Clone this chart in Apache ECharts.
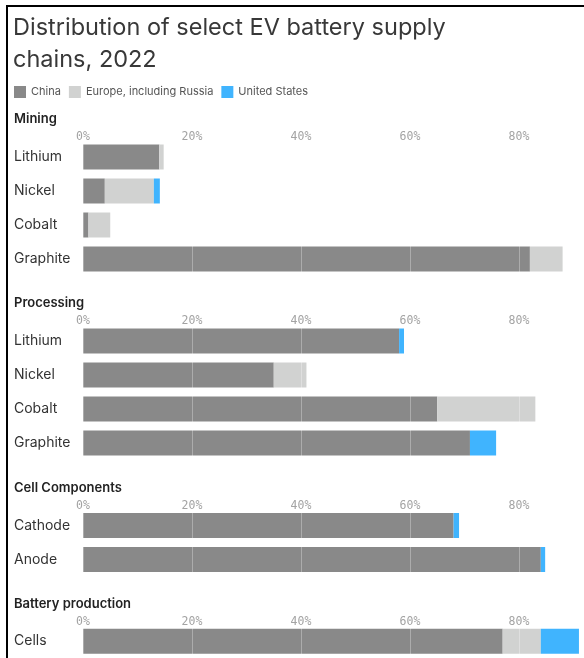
<!DOCTYPE html>
<html lang="en">
<head>
  <meta charset="UTF-8">
  <title>EV battery supply chains</title>
  <style>
    * { padding: 0; margin: 0; }
    html, body { width: 100%; height: 100%; background: #fff; }
    #chart { width: 584px; height: 658px; }
  </style>
  <script src="https://cdn.jsdelivr.net/npm/echarts@6/dist/echarts.min.js"></script>
</head>
<body>
  <div id="chart"></div>
  <script>
    // data (share of global capacity, %)
    var seriesNames = ['China', 'Europe, including Russia', 'United States'];
    var tickLabels = ['0%', '20%', '40%', '60%', '80%'];

    var miningCats = ['Lithium', 'Nickel', 'Cobalt', 'Graphite'];
    var miningChina = [14, 4, 1, 82];
    var miningEurope = [0.8, 9, 4, 6];
    var miningUS = [0, 1.1, 0, 0];

    var processingCats = ['Lithium', 'Nickel', 'Cobalt', 'Graphite'];
    var processingChina = [58, 35, 65, 71];
    var processingEurope = [0, 6, 18, 0];
    var processingUS = [0.9, 0, 0, 4.8];

    var cellCats = ['Cathode', 'Anode'];
    var cellChina = [68, 84];
    var cellEurope = [0, 0];
    var cellUS = [1, 0.8];

    var batteryCats = ['Cells'];
    var batteryChina = [77];
    var batteryEurope = [7];
    var batteryUS = [7];

    var colors = ['#898989', '#d1d2d1', '#40b4fe'];

    var sections = [
      { name: 'Mining', top: 140, cats: miningCats, values: [miningChina, miningEurope, miningUS] },
      { name: 'Processing', top: 324, cats: processingCats, values: [processingChina, processingEurope, processingUS] },
      { name: 'Cell Components', top: 508.5, cats: cellCats, values: [cellChina, cellEurope, cellUS] },
      { name: 'Battery production', top: 624.5, cats: batteryCats, values: [batteryChina, batteryEurope, batteryUS] }
    ];

    var rowHeight = 34;
    var axisMax = 91;
    var chart = echarts.init(document.getElementById('chart'));

    var titles = [{
      text: 'Distribution of select EV battery supply\nchains, 2022',
      left: 13,
      top: 12,
      padding: 0,
      textStyle: { fontFamily: 'Inter', fontSize: 23.5, fontWeight: 400, color: '#383838', lineHeight: 32 }
    }];
    var grids = [], xAxes = [], yAxes = [], series = [];

    sections.forEach(function(sec, i) {
      titles.push({
        text: sec.name,
        left: 14,
        top: sec.top - 27,
        padding: 0,
        textStyle: { fontFamily: 'Inter', fontSize: 13, fontWeight: 600, color: '#222' }
      });
      grids.push({ left: 83, top: sec.top, width: axisMax * 5.45, height: rowHeight * sec.cats.length });
      xAxes.push({
        gridIndex: i,
        type: 'value',
        position: 'top',
        min: 0,
        max: axisMax,
        interval: 20,
        z: 10,
        axisLine: { show: false },
        axisTick: { show: false },
        axisLabel: {
          margin: -3.5,
          fontFamily: 'DejaVu Sans Mono',
          fontSize: 11.5,
          color: '#a3a3a3',
          formatter: function(v) { return tickLabels[v / 20] || ''; }
        },
        splitLine: { show: true, showMaxLine: false, lineStyle: { color: 'rgba(255,255,255,0.3)', width: 1 } }
      });
      yAxes.push({
        gridIndex: i,
        type: 'category',
        inverse: true,
        data: sec.cats,
        axisLine: { show: false },
        axisTick: { show: false },
        axisLabel: {
          align: 'left',
          margin: 69,
          fontFamily: 'Inter',
          fontSize: 14,
          color: '#333'
        }
      });
      sec.values.forEach(function(vals, k) {
        series.push({
          name: seriesNames[k],
          type: 'bar',
          stack: 'total' + i,
          xAxisIndex: i,
          yAxisIndex: i,
          barWidth: 25,
          itemStyle: { color: colors[k] },
          emphasis: { disabled: true },
          data: vals
        });
      });
    });

    var option = {
      backgroundColor: '#fff',
      animation: false,
      color: colors,
      title: titles,
      legend: {
        left: 14,
        top: 86,
        padding: 0,
        icon: 'rect',
        itemWidth: 12,
        itemHeight: 12,
        itemGap: 8,
        data: seriesNames,
        textStyle: { fontFamily: 'Inter', fontSize: 11, color: '#555' }
      },
      grid: grids,
      xAxis: xAxes,
      yAxis: yAxes,
      series: series,
      graphic: [
        { type: 'rect', left: 6, top: 5, shape: { width: 2, height: 660 }, style: { fill: '#000' } },
        { type: 'rect', left: 6, top: 5, shape: { width: 590, height: 2 }, style: { fill: '#000' } }
      ]
    };
    chart.setOption(option);
  </script>
</body>
</html>
